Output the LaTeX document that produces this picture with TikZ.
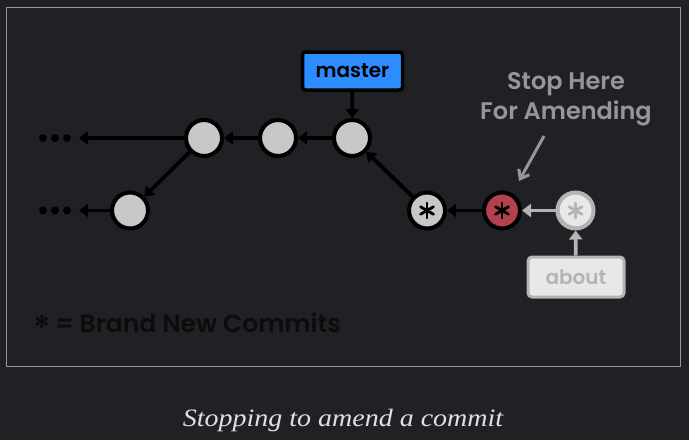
\documentclass[tikz,border=0pt]{standalone}
\usepackage{fontspec}
\setmainfont{Poppins}[BoldFont={Poppins SemiBold}]
\newfontfamily\capfont[FakeStretch=1.12]{Liberation Serif}
\usetikzlibrary{arrows.meta,calc}
\definecolor{bgc}{RGB}{32,33,36}
\definecolor{framec}{RGB}{150,150,150}
\definecolor{nodefill}{RGB}{200,200,200}
\definecolor{redc}{RGB}{178,66,78}
\definecolor{bluec}{RGB}{45,140,255}
\definecolor{greyc}{RGB}{150,150,150}
\definecolor{fadefill}{RGB}{232,232,232}
\definecolor{fadering}{RGB}{180,180,180}
\definecolor{legc}{RGB}{12,12,12}
\tikzset{
  commit/.style={circle, draw=black, line width=4pt, fill=#1, minimum size=36pt, inner sep=0pt,
    path picture={\fill[#1!82!black] (path picture bounding box.center) circle (18pt);
                  \fill[#1] ($(path picture bounding box.center)+(1.6pt,1.6pt)$) circle (17.5pt);}},
  commit/.default=nodefill,
  arr/.style={line width=3.8pt, black, -{Triangle[length=9pt,width=13pt]}},
  garr/.style={line width=3.8pt, fadering, -{Triangle[length=9pt,width=13pt]}},
  thinarr/.style={line width=3pt, greyc, -{Straight Barb[length=8pt,width=12pt,line width=3pt]}},
  dotc/.style={circle, fill=black, minimum size=8pt, inner sep=0pt},
  spoke/.style={line width=2.8pt, line cap=round},
}
\begin{document}
\begin{tikzpicture}[x=1pt,y=-1pt]
\fill[bgc] (0,0) rectangle (689,440);
\useasboundingbox (0,0) rectangle (689,440);
\draw[framec, line width=1pt] (6.5,7.5) rectangle (680.5,366.5);

% commits
\node[commit] (A) at (204,138) {};
\node[commit] (B) at (278,138) {};
\node[commit] (C) at (352,138) {};
\node[commit] (D) at (130,210.5) {};
\node[commit] (E) at (427,210.5) {};
\node[commit=redc] (F) at (502,210.5) {};
\node[commit=fadefill, draw=fadering] (G) at (575.5,210.5) {};

% asterisks
\foreach \n/\c in {E/black,F/black,G/fadering}{
  \foreach \a in {90,30,150}{
    \draw[spoke,\c] ($(\n)+(\a:7.5)$) -- ($(\n)+(\a+180:7.5)$);
  }
}

% dots
\foreach \y/\nm in {138/t,210.5/b}{
  \node[dotc] (d1\nm) at (43,\y) {};
  \node[dotc] (d2\nm) at (55,\y) {};
  \node[dotc] (d3\nm) at (67,\y) {};
  \coordinate (e\nm) at (79,\y);
}

% labels
\node[draw=black, line width=3.5pt, fill=bluec, rounded corners=3pt,
      minimum width=100pt, minimum height=38pt, inner sep=0pt] (master) at (352.5,71)
      {\fontsize{20}{20}\selectfont\bfseries master};
\node[draw=fadering, line width=3pt, fill=fadefill, rounded corners=4pt,
      minimum width=96pt, minimum height=40pt, inner sep=0pt, text=fadering] (about) at (576,277)
      {\fontsize{20}{20}\selectfont\bfseries about};
\node[text=greyc, align=center, font=\fontsize{24}{30}\selectfont\bfseries] (stop) at (566,99)
      {Stop Here\\For Amending};
\coordinate (gs) at (544,136);
\coordinate (ge) at (519,181);

% connectors
\draw[arr] (A) -- (et);
\draw[arr] (D) -- (eb);
\draw[arr] (A) -- (D);
\draw[arr] (B) -- (A);
\draw[arr] (C) -- (B);
\draw[arr] (master) -- (C);
\draw[arr] (E) -- (C);
\draw[arr] (F) -- (E);
\draw[garr] (G) -- (F);
\draw[garr] (about) -- (G);
\draw[thinarr] (gs) -- (ge);

% legend
\node[text=legc, anchor=west, font=\fontsize{25}{25}\selectfont\bfseries] (leg) at (30,327)
      {\raisebox{-8pt}{\fontsize{34}{34}\selectfont*}\,= Brand New Commits};

% caption
\node[text=white!88!black, font=\capfont\itshape\fontsize{25}{25}\selectfont] (cap) at (343,420)
      {Stopping to amend a commit};
\end{tikzpicture}
\end{document}
